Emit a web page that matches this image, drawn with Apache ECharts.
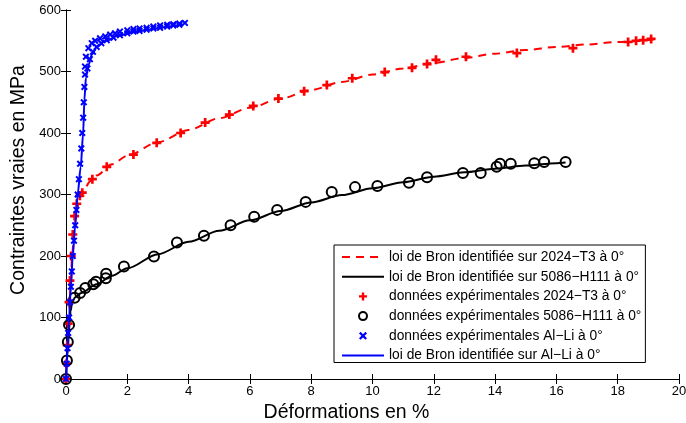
<!DOCTYPE html>
<html>
<head>
<meta charset="utf-8">
<script src="https://cdn.jsdelivr.net/npm/echarts@6/dist/echarts.min.js"></script>
<style>html,body{margin:0;padding:0;background:#fff}#c{width:686px;height:423px}</style>
</head>
<body>
<div id="c"></div>
<script>
// ---- Data (strain %, true stress MPa) ----
const xTicks = [0, 2, 4, 6, 8, 10, 12, 14, 16, 18, 20];
const yTicks = [0, 100, 200, 300, 400, 500, 600];

const legendNames = [
  "loi de Bron identifiée sur 2024\u2212T3 à 0°",
  "loi de Bron identifiée sur 5086\u2212H111 à 0°",
  "données expérimentales 2024\u2212T3 à 0°",
  "données expérimentales 5086\u2212H111 à 0°",
  "données expérimentales Al\u2212Li à 0°",
  "loi de Bron identifiée sur Al\u2212Li à 0°"
];

const bronT3 = [[0,0],[0.05,50],[0.1,100],[0.15,150],[0.2,200],[0.27,245],[0.35,275],[0.45,295],[0.6,310],[0.8,322],[1.0,331],[1.5,349],[2,363],[3,385],[4,405],[5,424],[6,441],[7,456],[8,470],[9,483],[10,495],[11,505],[12,514],[13,522],[14,529],[15,535],[16,540],[17,544],[18,548],[19.2,552]];

const bron5086 = [[0,0],[0.05,40],[0.1,80],[0.15,110],[0.2,125],[0.3,133],[0.5,140],[1,154],[1.5,168],[2,180],[3,203],[4,223],[5,241],[6,258],[7,273],[8,287],[9,299],[10,310],[11,320],[12,329],[13,336],[14,342],[15,347],[16,351],[16.3,352]];

const dataT3 = [[0,0],[0.02,25],[0.04,55],[0.07,90],[0.1,125],[0.13,160],[0.17,200],[0.22,235],[0.28,265],[0.35,285],[0.45,298],[0.53,303],[0.86,325],[1.33,345],[2.2,365],[2.96,384],[3.74,400],[4.54,417],[5.33,430],[6.11,444],[6.93,456],[7.77,468],[8.51,478],[9.34,489],[10.4,499],[11.29,506],[11.78,512],[12.07,519],[13.05,524],[14.71,530],[16.54,538],[18.34,548],[18.6,550],[18.83,551],[19.09,553]];

const data5086 = [[0,0],[0.03,30],[0.06,60],[0.1,88],[0.28,132],[0.46,140],[0.63,148],[0.89,154],[0.98,158],[1.3,164],[1.31,171],[1.89,183],[2.87,199],[3.62,222],[4.5,233],[5.37,250],[6.14,264],[6.89,275],[7.82,288],[8.67,304],[9.43,312],[10.16,314],[11.19,319],[11.78,328],[12.95,335],[13.53,335],[14.05,345],[14.16,350],[14.51,350],[15.28,351],[15.6,353],[16.3,353]];

const dataAlLi = [[0,0],[0.02,25],[0.05,50],[0.07,75],[0.1,100],[0.13,125],[0.16,150],[0.19,175],[0.22,200],[0.26,225],[0.3,250],[0.34,275],[0.38,300],[0.42,325],[0.46,350],[0.5,375],[0.53,400],[0.56,425],[0.58,450],[0.6,475],[0.62,495],
  [0.62,508],[0.65,524],[0.73,538],[0.84,546],[0.95,550],[1.11,554],[1.28,557],[1.44,560],[1.6,562],[1.76,565],[2.0,567],[2.2,569],[2.4,570],[2.63,571],[2.85,573],[3.07,575],[3.3,576],[3.5,577],[3.7,578],[3.88,579],
  [0.7,505],[0.78,520],[0.88,532],[1.0,540],[1.15,546],[1.33,551],[1.55,555],[1.76,559],[2.0,562],[2.2,565],[2.4,566],[2.63,568],[2.85,570],[3.07,571],[3.3,573],[3.5,575],[3.7,576]];

const bronAlLi = [[0,0],[0.05,50],[0.1,100],[0.16,150],[0.22,200],[0.3,250],[0.38,300],[0.48,345],[0.56,400],[0.6,454],[0.65,490],[0.73,510],[0.85,528],[1.0,540],[1.3,550],[1.7,558],[2.2,564],[2.7,568],[3.2,572],[3.8,577]];

// ---- Chart ----
const plusPath = 'path://M3.5,0h3v3.5h3.5v3h-3.5v3.5h-3v-3.5h-3.5v-3h3.5z';
const crossPath = 'path://M0,2L2,0L5,3L8,0L10,2L7,5L10,8L8,10L5,7L2,10L0,8L3,5Z';
const font = 'Liberation Sans, Arial, Helvetica, sans-serif';

const chart = echarts.init(document.getElementById('c'), null, {renderer: 'canvas'});
const axisCommon = {
  axisLine: {show: true, lineStyle: {color: '#000', width: 1}},
  axisTick: {show: true, inside: true, length: 5, lineStyle: {color: '#000'}},
  splitLine: {show: false}
};
const lineLegend = (name) => ({name: name, itemStyle: {opacity: 0}});
chart.setOption({
  animation: false,
  backgroundColor: '#fff',
  grid: {left: 66, right: 7, top: 10, bottom: 44, containLabel: false, outerBoundsMode: 'none'},
  xAxis: [
    Object.assign({type: 'value', min: xTicks[0], max: xTicks[xTicks.length-1], interval: 2, position: 'bottom',
      name: 'Déformations en %', nameLocation: 'middle', nameGap: 21,
      nameTextStyle: {fontFamily: font, fontSize: 19.5, color: '#000', padding: [0, 52, 0, 0]},
      axisLabel: {fontFamily: font, fontSize: 13, color: '#000', margin: 6}}, axisCommon),
    Object.assign({type: 'value', min: xTicks[0], max: xTicks[xTicks.length-1], interval: 2, position: 'top',
      axisLabel: {show: false}}, axisCommon)
  ],
  yAxis: [
    Object.assign({type: 'value', min: yTicks[0], max: yTicks[yTicks.length-1], interval: 100, position: 'left',
      name: 'Contraintes vraies en MPa', nameLocation: 'middle', nameGap: 36,
      nameTextStyle: {fontFamily: font, fontSize: 19.5, color: '#000', padding: [0, 0, 0, 29]},
      axisLabel: {fontFamily: font, fontSize: 13, color: '#000', margin: 5}}, axisCommon),
    Object.assign({type: 'value', min: yTicks[0], max: yTicks[yTicks.length-1], interval: 100, position: 'right',
      axisLabel: {show: false}}, axisCommon)
  ],
  legend: {
    orient: 'vertical', left: 334, top: 245,
    backgroundColor: '#fff', borderColor: '#000', borderWidth: 1, borderRadius: 0,
    padding: [5, 4, 0, 7],
    itemWidth: 42, itemHeight: 8, itemGap: 5.7,
    textStyle: {fontFamily: font, fontSize: 13.8, color: '#000', lineHeight: 14},
    data: [lineLegend(legendNames[0]), lineLegend(legendNames[1]), legendNames[2], legendNames[3], legendNames[4], lineLegend(legendNames[5])]
  },
  series: [
    {name: legendNames[0], type: 'line', data: bronT3, symbol: 'none', smooth: 0.3, smoothMonotone: 'x',
      lineStyle: {color: '#ff0000', width: 2, type: [8, 6]}, itemStyle: {color: '#ff0000'}, z: 2},
    {name: legendNames[1], type: 'line', data: bron5086, symbol: 'none', smooth: 0.3, smoothMonotone: 'x',
      lineStyle: {color: '#000', width: 2}, itemStyle: {color: '#000'}, z: 2},
    {name: legendNames[2], type: 'scatter', data: dataT3, symbol: plusPath, symbolSize: 9,
      itemStyle: {color: '#ff0000', opacity: 1}, z: 3},
    {name: legendNames[3], type: 'scatter', data: data5086, symbol: 'circle', symbolSize: 10,
      itemStyle: {color: 'rgba(0,0,0,0)', borderColor: '#000', borderWidth: 2, opacity: 1}, z: 3},
    {name: legendNames[4], type: 'scatter', data: dataAlLi, symbol: crossPath, symbolSize: 7,
      itemStyle: {color: '#0000ff', opacity: 1}, z: 4},
    {name: legendNames[5], type: 'line', data: bronAlLi, symbol: 'none', smooth: 0.3, smoothMonotone: 'x',
      lineStyle: {color: '#0000ff', width: 2}, itemStyle: {color: '#0000ff'}, z: 5}
  ]
});
</script>
</body>
</html>
